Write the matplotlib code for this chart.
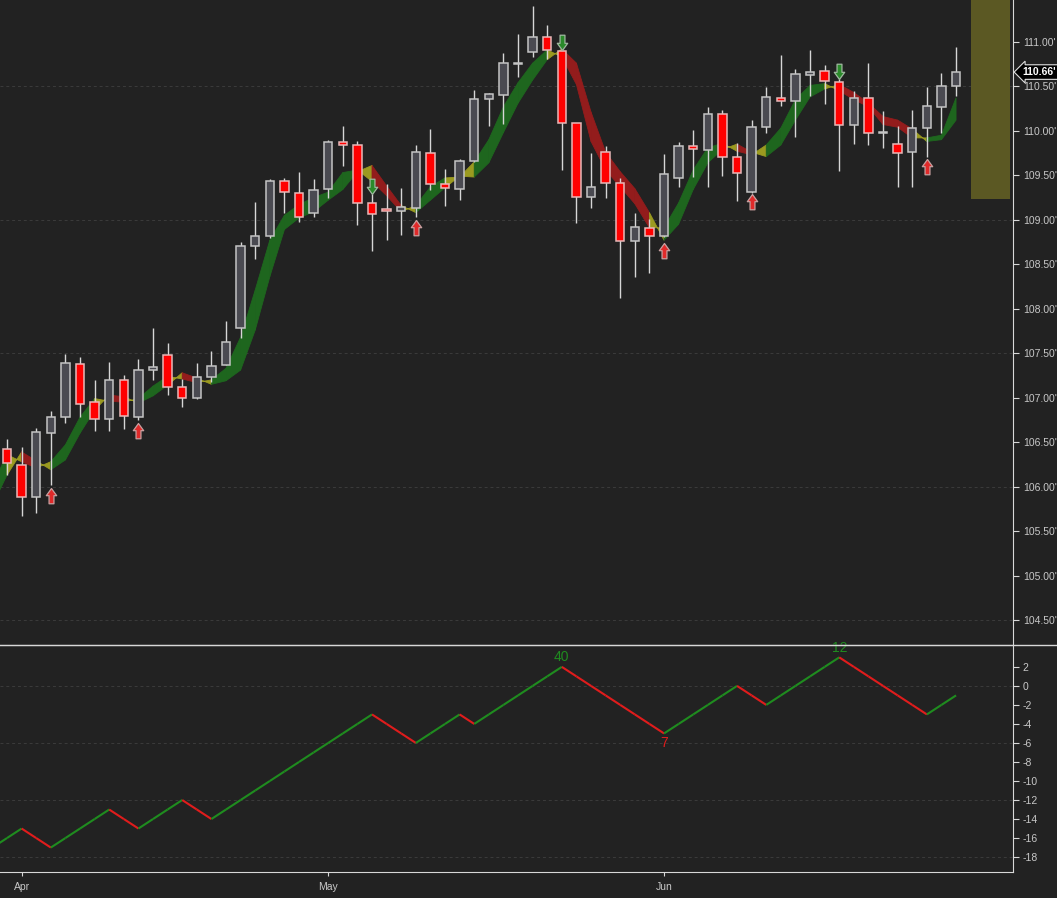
"""Candlestick chart with trend ribbon and swing counter -> out.png"""
import matplotlib
matplotlib.use("Agg")
import matplotlib.pyplot as plt
import numpy as np
from matplotlib.patches import Rectangle
from matplotlib.path import Path
from matplotlib.collections import LineCollection, PolyCollection
from matplotlib.lines import Line2D

# ── palette ──────────────────────────────────────────────────────────────────
C_BG     = "#222222"
C_TEXT   = "#c8c8c8"
C_SPINE  = "#d8d8d8"
C_GRID   = "#3b3b3b"
C_WICK   = "#d6d6d6"
C_UP     = "#4a4a51"
C_UP_EC  = "#c4c4c4"
C_DN     = "#ff0000"
C_DN_EC  = "#e8b8b8"
C_RIB_G  = "#1e661e"
C_RIB_R  = "#931c1c"
C_RIB_Y  = "#9b9a20"
C_ZONE   = "#5b5823"
C_LINE_G = "#1f8c1f"
C_LINE_R = "#e01c1c"

plt.rcParams["font.family"] = ["Liberation Sans", "DejaVu Sans"]
plt.rcParams["axes.unicode_minus"] = False

# ── data ─────────────────────────────────────────────────────────────────────
opens = [106.42, 106.24, 105.88, 106.60, 106.78, 107.38, 106.95, 106.76, 107.20, 106.78,
         107.31, 107.48, 107.12, 107.00, 107.23, 107.37, 107.78, 108.70, 108.82, 109.43,
         109.30, 109.08, 109.34, 109.87, 109.84, 109.19, 109.12, 109.10, 109.13, 109.75,
         109.40, 109.34, 109.66, 110.36, 110.40, 110.75, 110.88, 111.05, 110.90, 110.09,
         109.26, 109.76, 109.41, 108.76, 108.91, 108.82, 109.47, 109.83, 109.78, 110.19,
         109.70, 109.31, 110.04, 110.37, 110.34, 110.63, 110.67, 110.55, 110.06, 110.37,
         109.97, 109.85, 109.76, 110.03, 110.27, 110.50]
highs = [106.54, 106.45, 106.66, 106.85, 107.49, 107.46, 107.20, 107.40, 107.26, 107.44,
         107.78, 107.61, 107.21, 107.39, 107.52, 107.86, 108.75, 109.20, 109.46, 109.47,
         109.54, 109.46, 109.90, 110.05, 109.89, 109.29, 109.40, 109.36, 109.84, 110.02,
         109.57, 109.68, 110.46, 110.42, 110.87, 111.09, 111.40, 111.19, 110.91, 110.09,
         109.75, 109.83, 109.47, 109.08, 109.01, 109.74, 109.87, 110.01, 110.27, 110.23,
         109.86, 110.12, 110.49, 110.85, 110.69, 110.91, 110.74, 110.58, 110.45, 110.76,
         110.22, 110.05, 110.23, 110.49, 110.65, 110.94]
lows = [106.13, 105.67, 105.70, 106.02, 106.72, 106.78, 106.62, 106.62, 106.65, 106.75,
        107.20, 107.03, 106.90, 106.99, 107.18, 107.37, 107.67, 108.56, 108.79, 109.08,
        108.97, 109.03, 109.24, 109.60, 108.94, 108.65, 108.77, 108.83, 109.03, 109.33,
        109.16, 109.22, 109.65, 110.05, 110.08, 110.61, 110.83, 110.81, 109.56, 108.96,
        109.13, 109.24, 108.12, 108.36, 108.40, 108.81, 109.37, 109.48, 109.37, 109.49,
        109.21, 109.30, 109.97, 110.28, 109.93, 110.39, 110.30, 109.55, 109.85, 109.84,
        109.81, 109.37, 109.37, 109.70, 109.97, 110.39]
closes = [106.27, 105.88, 106.61, 106.78, 107.39, 106.93, 106.76, 107.20, 106.79, 107.31,
          107.34, 107.12, 107.00, 107.23, 107.36, 107.63, 108.71, 108.82, 109.43, 109.31,
          109.03, 109.33, 109.87, 109.84, 109.19, 109.06, 109.10, 109.14, 109.76, 109.40,
          109.36, 109.66, 110.36, 110.41, 110.76, 110.76, 111.05, 110.91, 110.09, 109.26,
          109.37, 109.41, 108.76, 108.92, 108.82, 109.51, 109.83, 109.79, 110.19, 109.70,
          109.52, 110.04, 110.38, 110.34, 110.64, 110.66, 110.56, 110.06, 110.37, 109.97,
          109.99, 109.75, 110.03, 110.28, 110.50, 110.66]

# ribbon lines, bar -1 .. 65
rib_fast = [106.02, 106.36, 106.28, 106.21, 106.28, 106.47, 106.78, 106.99, 106.96, 106.95,
            106.99, 107.13, 107.24, 107.21, 107.17, 107.20, 107.33, 107.68, 108.21, 108.77,
            109.05, 109.17, 109.25, 109.31, 109.53, 109.56, 109.43, 109.27, 109.09, 109.16,
            109.37, 109.47, 109.48, 109.65, 109.90, 110.27, 110.54, 110.76, 110.91, 110.83,
            110.52, 109.88, 109.56, 109.37, 109.18, 108.91, 108.91, 109.19, 109.56, 109.81,
            109.86, 109.77, 109.73, 109.84, 110.03, 110.35, 110.51, 110.53, 110.45, 110.35,
            110.27, 110.07, 110.04, 109.92, 109.92, 109.95, 110.37]
rib_slow = [105.79, 106.13, 106.39, 106.29, 106.19, 106.30, 106.60, 106.86, 107.03, 107.01,
            106.94, 107.02, 107.14, 107.28, 107.22, 107.15, 107.19, 107.31, 107.76, 108.36,
            108.89, 109.02, 109.09, 109.22, 109.34, 109.54, 109.61, 109.38, 109.16, 109.08,
            109.22, 109.36, 109.49, 109.48, 109.64, 109.98, 110.31, 110.57, 110.80, 110.92,
            110.76, 110.21, 109.76, 109.54, 109.35, 109.08, 108.77, 108.95, 109.34, 109.64,
            109.79, 109.85, 109.76, 109.71, 109.84, 110.12, 110.38, 110.47, 110.52, 110.43,
            110.31, 110.16, 110.12, 110.02, 109.88, 109.90, 110.12]

# swing counter, bar -1 .. 65
counts = [-17, -16, -15, -16, -17, -16, -15, -14, -13, -14, -15, -14, -13, -12, -13, -14,
          -13, -12, -11, -10, -9, -8, -7, -6, -5, -4, -3, -4, -5, -6, -5, -4, -3, -4,
          -3, -2, -1, 0, 1, 2, 1, 0, -1, -2, -3, -4, -5, -4, -3, -2, -1, 0, -1, -2,
          -1, 0, 1, 2, 3, 2, 1, 0, -1, -2, -3, -2, -1]

swing_idx  = [38, 45, 57]
swing_text = ["40", "7", "12"]
swing_up   = [True, False, True]

up_sig_idx = [3, 9, 28, 45, 51, 63]
up_sig_px  = [105.99, 106.72, 109.00, 108.74, 109.29, 109.68]
dn_sig_idx = [25, 38, 57]
dn_sig_px  = [109.29, 110.91, 110.58]

month_idx    = [1, 22, 45]
month_labels = ["Apr", "May", "Jun"]

last_price = 110.66
zone_x0, zone_x1, zone_lo = 66.03, 68.7, 109.23

# ── figure / axes ────────────────────────────────────────────────────────────
W, H = 1057, 898
fig = plt.figure(figsize=(W / 100, H / 100), dpi=100, facecolor=C_BG)
ax  = fig.add_axes([0, 1 - 645 / H, 1013 / W, 645 / H])
ax2 = fig.add_axes([0, 1 - 872 / H, 1013 / W, 227 / H], sharex=ax)
for a in (ax, ax2):
    a.set_facecolor(C_BG)
    for s in ("left", "top", "bottom"):
        a.spines[s].set_visible(False)
    a.spines["right"].set_color(C_SPINE)
    a.yaxis.tick_right()
    a.tick_params(axis="y", colors=C_SPINE, labelcolor=C_TEXT, labelsize=7.5,
                  direction="out", length=4, pad=3)

ax.set_xlim(-0.48, 68.9)
ax.set_ylim(104.22, 111.47)
ax2.set_ylim(-19.57, 4.3)

n = len(opens)
xs = np.arange(n)

# grid
for g in [110.5, 109.0, 107.5, 106.0, 104.5]:
    ax.axhline(g, color=C_GRID, lw=0.7, ls=(0, (3, 3)), zorder=0)
for g in [0, -6, -12, -18]:
    ax2.axhline(g, color=C_GRID, lw=0.7, ls=(0, (3, 3)), zorder=0)

# projection zone
ax.add_patch(Rectangle((zone_x0, zone_lo), zone_x1 - zone_x0, 5,
                       facecolor=C_ZONE, edgecolor="none", zorder=1))

# ── ribbon ───────────────────────────────────────────────────────────────────
rx = np.arange(-1, n)
f = np.array(rib_fast)
s = np.array(rib_slow)
polys, cols = [], []
for k in range(len(rx) - 1):
    polys.append([(rx[k], f[k]), (rx[k + 1], f[k + 1]), (rx[k + 1], s[k + 1]), (rx[k], s[k])])
    d0, d1 = f[k] - s[k], f[k + 1] - s[k + 1]
    if d0 > 0 and d1 > 0:
        cols.append(C_RIB_G)
    elif d0 < 0 and d1 < 0:
        cols.append(C_RIB_R)
    else:
        cols.append(C_RIB_Y)
ax.add_collection(PolyCollection(polys, facecolors=cols, edgecolors=cols,
                                 linewidths=0.6, zorder=2))

# ── candles ──────────────────────────────────────────────────────────────────
ax.add_collection(LineCollection([[(i, lows[i]), (i, highs[i])] for i in xs],
                                 colors=C_WICK, linewidths=1.0, zorder=3))
bw = 0.58
for i in xs:
    o, c = opens[i], closes[i]
    up = c >= o
    ax.add_patch(Rectangle((i - bw / 2, min(o, c)), bw, max(abs(c - o), 0.012),
                           facecolor=C_UP if up else C_DN,
                           edgecolor=C_UP_EC if up else C_DN_EC,
                           linewidth=1.1, zorder=4))

# ── signal arrows ────────────────────────────────────────────────────────────
up_verts = [(0, 0), (0.34, -0.47), (0.16, -0.47), (0.16, -1), (-0.16, -1),
            (-0.16, -0.47), (-0.34, -0.47), (0, 0)]
up_arrow = Path(up_verts, closed=True)
dn_arrow = Path([(x, -y) for x, y in up_verts], closed=True)
ax.plot(up_sig_idx, up_sig_px, ls="none", marker=up_arrow, ms=22,
        mfc="#e02a2a", mec="#c9a0a0", mew=0.9, zorder=5)
ax.plot(dn_sig_idx, dn_sig_px, ls="none", marker=dn_arrow, ms=22,
        mfc="#2a8a2a", mec="#a0b8a0", mew=0.9, zorder=5)

# ── price axis ───────────────────────────────────────────────────────────────
pticks = np.arange(104.5, 111.01, 0.5)
ax.set_yticks(pticks)
ax.set_yticklabels([f"{v:.2f}'" for v in pticks])
ax.tick_params(axis="x", bottom=False, labelbottom=False)
ytr = ax.get_yaxis_transform()
ax.text(1.008, 111.5, "111.50'", transform=ytr, color=C_TEXT, fontsize=7.5,
        ha="left", va="center", clip_on=False)
ax.text(1.009, last_price, f"{last_price:.2f}'", transform=ytr, color="white",
        fontsize=7.5, fontweight="bold", ha="left", va="center", clip_on=False,
        zorder=10, bbox=dict(boxstyle="larrow,pad=0.22", facecolor="black",
                             edgecolor="#e0e0e0", linewidth=0.8))

# ── swing counter panel ──────────────────────────────────────────────────────
cx = np.arange(-1, n)
cv = np.array(counts)
segs = [[(cx[k], cv[k]), (cx[k + 1], cv[k + 1])] for k in range(len(cx) - 1)]
scol = [C_LINE_G if cv[k + 1] > cv[k] else C_LINE_R for k in range(len(cx) - 1)]
ax2.add_collection(LineCollection(segs, colors=scol, linewidths=1.5, zorder=3))
for i, t, u in zip(swing_idx, swing_text, swing_up):
    v = cv[i + 1]
    txt = ax2.annotate(t, (i, v), xytext=(0, 6.8 if u else -6.8),
                       textcoords="offset points",
                       color=C_LINE_G if u else C_LINE_R, fontsize=10,
                       ha="center", va="center", zorder=4, annotation_clip=False)
    txt.set_clip_on(True)

cticks = list(range(-18, 3, 2))
ax2.set_yticks(cticks)
ax2.set_yticklabels([str(v) for v in cticks])
for sname in ("top", "bottom"):
    ax2.spines[sname].set_visible(True)
    ax2.spines[sname].set_color(C_SPINE)
ax2.set_xticks(month_idx)
ax2.set_xticklabels(month_labels)
ax2.tick_params(axis="x", colors=C_SPINE, labelcolor=C_TEXT, labelsize=7.5,
                direction="out", length=3, pad=4)

# separator across the full width
fig.add_artist(Line2D([0, 1], [1 - 645 / H, 1 - 645 / H], transform=fig.transFigure,
                      color=C_SPINE, lw=1.0))

fig.savefig("out.png", dpi=100, facecolor=C_BG)
